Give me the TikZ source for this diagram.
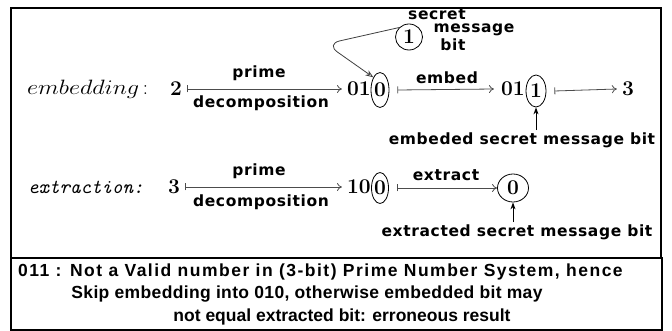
\documentclass[tikz,border=0pt]{standalone}
\usepackage{fontspec}
\usetikzlibrary{arrows.meta,shapes.geometric,calc}
\newfontfamily\lblfont{DejaVu Sans}[LetterSpace=4]
\newfontfamily\botfonta{Liberation Sans}[LetterSpace=8.5]
\newfontfamily\botfontb{Liberation Sans}[LetterSpace=2]
\newfontfamily\botfontc{Liberation Sans}
\begin{document}
\begin{tikzpicture}[x=1pt,y=-1pt,
  num/.style={font=\fontsize{21}{21}\selectfont\bfseries, inner sep=0pt},
  lbl/.style={font=\lblfont\bfseries\fontsize{15.5}{15.5}\selectfont, inner sep=0pt},
  bota/.style={font=\botfonta\bfseries\fontsize{17.5}{17.5}\selectfont, inner sep=0pt},
  botb/.style={font=\botfontb\bfseries\fontsize{17.5}{17.5}\selectfont, inner sep=0pt},
  botc/.style={font=\botfontc\bfseries\fontsize{17.5}{17.5}\selectfont, inner sep=0pt},
  ring/.style={draw, ellipse, inner sep=0pt, line width=0.8pt},
  maparrow/.style={{Bar[width=7pt]}-{To[length=5pt,width=8pt]}, line width=0.8pt, draw=black!70},
  uparrow/.style={-{Stealth[length=7pt,width=5pt]}, line width=0.9pt},
  curvearrow/.style={-{Stealth[open,length=8pt,width=6pt]}, line width=0.8pt, draw=black!75, rounded corners=14pt},
]
\useasboundingbox (0,0) rectangle (672,331);
\fill[white] (0,0) rectangle (672,331);
% frames
\draw[line width=2pt] (11,8) rectangle (661,258);
\draw[line width=1.2pt] (11,258) rectangle (662,330);

% ---- embedding row ----
\node[anchor=west, inner sep=0pt] (embL) at (27,89)
  {\fontsize{20.74}{20.74}\selectfont\scalebox{1.17}[1]{$embedding$}\,:};
\node[num] (n2) at (176,89) {2};
\node[lbl] (p1) at (259,73) {prime};
\node[lbl] (d1) at (261,103) {decomposition};
\node[num, anchor=east] (n01a) at (371,89) {01};
\node[num, ring, minimum width=18pt, minimum height=35pt] (e1) at (380,90) {0};
\node[lbl] (emb) at (447,78) {embed};
\node[num, anchor=east] (n01b) at (525,89) {01};
\node[num, ring, minimum width=20pt, minimum height=32pt] (e2) at (536,91) {1};
\node[num] (n3) at (628,89) {3};
\node[lbl] (m1) at (522,140) {embeded secret message bit};

\node[num, ring, minimum width=27pt, minimum height=26pt] (c1) at (409,37) {1};
\node[lbl] (s1) at (437,14) {secret};
\node[lbl] (s2) at (474,30) {message};
\node[lbl] (s3) at (453,45) {bit};
\coordinate (bend) at (326,44);

\draw[maparrow] ([xshift=5pt]n2.east) -- ([xshift=-5pt]n01a.west);
\draw[maparrow] ([xshift=8pt]e1.east) -- ([xshift=-7pt]n01b.west);
\draw[maparrow] ([xshift=8pt]e2.east) -- ([xshift=-5pt]n3.west);
\draw[uparrow] ([yshift=2pt]e2.south |- m1.north) -- (e2.south);
\draw[curvearrow] (c1.north west) -- (bend) -- (e1.north west);

% ---- extraction row ----
\node[anchor=west, inner sep=0pt] (extL) at (28,187)
  {\fontsize{20}{20}\selectfont\ttfamily\itshape extraction:};
\node[num] (n3b) at (174,187) {3};
\node[lbl] (p2) at (259,171) {prime};
\node[lbl] (d2) at (261,202) {decomposition};
\node[num, anchor=east] (n10) at (371,187) {10};
\node[num, ring, minimum width=17pt, minimum height=31pt] (e3) at (380,188) {0};
\node[lbl] (ext) at (446,175) {extract};
\node[num, ring, minimum width=31pt, minimum height=28pt] (c2) at (513,188) {0};
\node[lbl] (m2) at (517,232) {extracted secret message bit};

\draw[maparrow] ([xshift=5pt]n3b.east) -- ([xshift=-5pt]n10.west);
\draw[maparrow] ([xshift=8pt]e3.east) -- (c2.west);
\draw[uparrow] ([yshift=2pt]c2.south |- m2.north) -- (c2.south);

% ---- note ----
\node[bota, anchor=west] (t1) at (18,272) {011 : Not a Valid number in (3-bit) Prime Number System, hence};
\node[botb] (t2) at (307,294) {Skip embedding into 010, otherwise embedded bit may};
\node[botc] (t3) at (342,317) {not equal extracted bit: erroneous result};
\end{tikzpicture}
\end{document}
